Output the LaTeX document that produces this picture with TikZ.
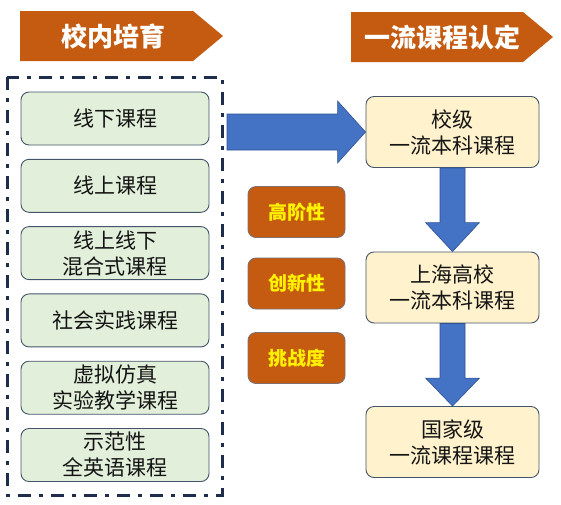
\documentclass[tikz,border=0pt]{standalone}
\usepackage{fontspec}
\setmainfont{Noto Sans CJK SC}
\usetikzlibrary{calc}

\definecolor{bannerorange}{HTML}{C55A11}
\definecolor{framenavy}{HTML}{1F2D4D}
\definecolor{boxline}{HTML}{44546A}
\definecolor{boxgreen}{HTML}{E2EFDA}
\definecolor{boxcream}{HTML}{FFF2CC}
\definecolor{arrowblue}{HTML}{4472C4}
\definecolor{arrowedge}{HTML}{2F528F}
\definecolor{tagedge}{HTML}{7F6F6F}

\tikzset{
  banner/.style={fill=bannerorange},
  bannertext/.style={text=white, font=\bfseries\fontsize{26}{30}\selectfont},
  frame/.style={draw=framenavy, line width=3pt,
    dash pattern=on 13pt off 8pt on 4pt off 8pt},
  coursebox/.style={draw=boxline, line width=0.9pt, rounded corners=8pt,
    align=center, inner sep=0pt, text=black!92,
    font=\fontsize{21}{26}\selectfont},
  greenbox/.style={coursebox, fill=boxgreen, minimum width=188pt, minimum height=53pt},
  creambox/.style={coursebox, fill=boxcream, minimum width=173pt, minimum height=71pt},
  tagbox/.style={draw=tagedge, line width=0.9pt, fill=bannerorange, rounded corners=8pt,
    minimum width=97pt, minimum height=51pt, inner sep=0pt, text=yellow,
    font=\bfseries\fontsize{19}{22}\selectfont},
  bigarrow/.style={fill=arrowblue, draw=arrowedge, line width=0.6pt, line join=miter}
}

\begin{document}
\begin{tikzpicture}[x=1pt, y=-1pt]
  \useasboundingbox (0,0) rectangle (561,504);

  % Banners
  \fill[banner] (20,11) -- (193,11) -- (223,36) -- (193,61) -- (20,61) -- cycle;
  \fill[banner] (351,12) -- (523,12) -- (553,37) -- (523,62) -- (351,62) -- cycle;
  \node[bannertext] (hdL) at (113,36) {校内培育};
  \node[bannertext] (hdR) at (442,37) {一流课程认定};

  % Campus courses
  \draw[frame] (7,77) rectangle (222,495);
  \node[greenbox] (g1) at (115,118.5) {线下课程};
  \node[greenbox] (g2) at (115,185.8) {线上课程};
  \node[greenbox] (g3) at (115,253.1) {线上线下\\混合式课程};
  \node[greenbox] (g4) at (115,320.4) {社会实践课程};
  \node[greenbox] (g5) at (115,387.7) {虚拟仿真\\实验教学课程};
  \node[greenbox] (g6) at (115,455) {示范性\\全英语课程};

  % Criteria
  \node[tagbox] (t1) at (296.5,212) {高阶性};
  \node[tagbox] (t2) at (296.5,283.5) {创新性};
  \node[tagbox] (t3) at (296.5,358) {挑战度};

  % Certification levels
  \node[creambox] (r1) at (452.5,132) {校级\\一流本科课程};
  \node[creambox] (r2) at (452.5,287.5) {上海高校\\一流本科课程};
  \node[creambox] (r3) at (452.5,442) {国家级\\一流课程课程};

  % Arrows
  \coordinate (aS) at (227,132);
  \draw[bigarrow] ($(aS)+(0,-18)$) -- ($(r1.west)+(-28,-18)$) -- ($(r1.west)+(-28,-31)$)
    -- (r1.west) -- ($(r1.west)+(-28,31)$) -- ($(r1.west)+(-28,18)$) -- ($(aS)+(0,18)$) -- cycle;
  \draw[bigarrow] ($(r1.south)+(-12.5,0)$) -- ($(r2.north)+(-12.5,-29)$) -- ($(r2.north)+(-27,-29)$)
    -- (r2.north) -- ($(r2.north)+(27,-29)$) -- ($(r2.north)+(12.5,-29)$) -- ($(r1.south)+(12.5,0)$) -- cycle;
  \draw[bigarrow] ($(r2.south)+(-12.5,0)$) -- ($(r3.north)+(-12.5,-28)$) -- ($(r3.north)+(-27,-28)$)
    -- (r3.north) -- ($(r3.north)+(27,-28)$) -- ($(r3.north)+(12.5,-28)$) -- ($(r2.south)+(12.5,0)$) -- cycle;
\end{tikzpicture}
\end{document}
